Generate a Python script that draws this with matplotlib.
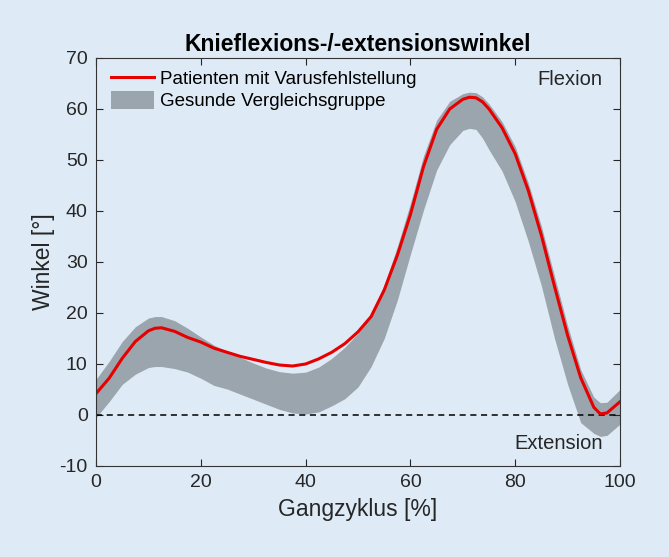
import matplotlib
matplotlib.use("Agg")
import matplotlib.pyplot as plt
from matplotlib.patches import Patch
from matplotlib.lines import Line2D

# Gangzyklus [%]
zyklus = [0, 2.5, 5, 7.5, 10, 11.25, 12.5, 15, 17.5, 20, 22.5, 25, 27.5, 30, 32.5, 35, 37.5,
          40, 42.5, 45, 47.5, 50, 52.5, 55, 57.5, 60, 62.5, 65, 67.5, 70, 71.25, 72.5,
          73.75, 75, 77.5, 80, 82.5, 85, 87.5, 90, 92.5, 95, 96.25, 97.5, 100]

# Patienten mit Varusfehlstellung (Mittelwert)
patienten = [4.2, 7.2, 11.1, 14.4, 16.5, 17.0, 17.1, 16.4, 15.2, 14.3, 13.1, 12.3, 11.5,
             10.9, 10.3, 9.8, 9.6, 10.0, 11.0, 12.3, 14.0, 16.3, 19.3, 24.5, 31.3,
             39.3, 48.7, 56.0, 60.0, 61.9, 62.3, 62.2, 61.4, 60.0, 56.3, 51.2, 44.0,
             35.2, 25.2, 15.6, 7.3, 1.5, 0.2, 0.4, 2.6]

# Gesunde Vergleichsgruppe (Band)
gesund_oben = [7.0, 10.5, 14.4, 17.3, 19.0, 19.3, 19.3, 18.5, 17.0, 15.3, 13.7, 12.5, 11.3,
               10.2, 9.2, 8.5, 8.2, 8.4, 9.4, 11.1, 13.3, 16.0, 19.5, 25.5, 33.0,
               41.5, 50.8, 57.8, 61.5, 63.0, 63.3, 63.2, 62.4, 61.0, 57.5, 52.6, 45.5,
               37.0, 27.2, 17.5, 8.9, 3.5, 2.4, 2.5, 5.0]
gesund_unten = [-0.5, 2.6, 6.0, 8.0, 9.3, 9.5, 9.5, 9.1, 8.4, 7.2, 5.8, 5.1, 4.1,
                3.1, 2.1, 1.1, 0.4, 0.2, 0.6, 1.8, 3.2, 5.5, 9.5, 15.0, 22.5,
                31.5, 40.2, 48.0, 53.0, 55.8, 56.2, 56.0, 54.3, 52.0, 47.8, 41.8, 34.0,
                25.3, 15.0, 6.0, -1.5, -3.6, -4.2, -4.0, -1.8]

bg = '#deebf7'
grau = '#9ba5ad'
rot = '#e60000'
txt = '#262626'

plt.rcParams['font.family'] = ['Liberation Sans', 'DejaVu Sans']
plt.rcParams['axes.unicode_minus'] = False

fig = plt.figure(figsize=(6.69, 5.57), dpi=100, facecolor=bg)
ax = fig.add_axes([0.1435, 0.1634, 0.7833, 0.7325], facecolor=bg)

ax.fill_between(zyklus, gesund_unten, gesund_oben, color=grau, linewidth=0)
ax.axhline(0, color='black', linestyle=(0, (4, 3)), linewidth=1.1)
ax.plot(zyklus, patienten, color=rot, linewidth=2.2, solid_joinstyle='round')

ax.set_xlim(0, 100)
ax.set_ylim(-10, 70)
ax.set_xticks([0, 20, 40, 60, 80, 100])
ax.set_yticks(range(-10, 71, 10))
ax.tick_params(direction='in', top=True, right=True, length=5, width=0.8,
               labelsize=14, colors=txt, pad=6)
for s in ax.spines.values():
    s.set_color('#333333')
    s.set_linewidth(0.8)

ax.set_title('Knieflexions-/-extensionswinkel', fontsize=16.5, fontweight='bold', pad=5)
ax.set_xlabel('Gangzyklus [%]', fontsize=16.5, color=txt, labelpad=5)
ax.set_ylabel('Winkel [°]', fontsize=16.5, color=txt, labelpad=3)

ax.text(96.7, 65.7, 'Flexion', ha='right', va='center', fontsize=14.5, color=txt)
ax.text(96.7, -5.5, 'Extension', ha='right', va='center', fontsize=14.5, color=txt)

handles = [Line2D([0], [0], color=rot, linewidth=2.2),
           Patch(facecolor=grau, edgecolor='none')]
ax.legend(handles, ['Patienten mit Varusfehlstellung', 'Gesunde Vergleichsgruppe'],
          loc='upper left', frameon=False, fontsize=13.5, handlelength=2.3,
          handleheight=1.1, handletextpad=0.3, labelspacing=0.15,
          borderaxespad=0.4, bbox_to_anchor=(0.0, 1.01))

fig.savefig('out.png', dpi=100, facecolor=bg)
